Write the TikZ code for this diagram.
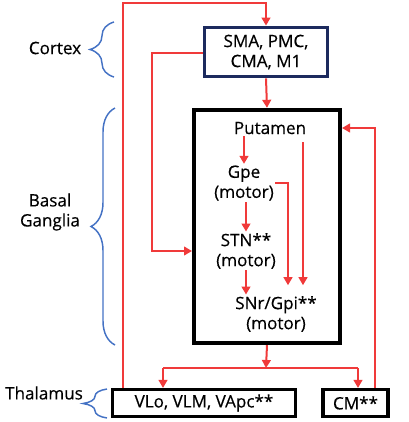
\documentclass[tikz,border=0pt]{standalone}
\usepackage{fontspec}
\setmainfont{Open Sans}
\newfontfamily\diagfont{Open Sans}[FakeBold=0.4]
\usepackage{tikz}
\usetikzlibrary{positioning,shapes,arrows.meta,decorations.pathreplacing}
\definecolor{linkred}{HTML}{F03A3A}
\definecolor{bracebl}{HTML}{4472C4}
\definecolor{navy}{HTML}{1C2A5E}

\begin{document}
\begin{tikzpicture}[x=0.75pt,y=-0.75pt,
  font=\diagfont\fontsize{12.8}{15}\selectfont,
  region/.style={draw,shape=rectangle,inner sep=0pt,align=center},
  part/.style={align=center,inner sep=1pt},
  link/.style={draw=linkred,line width=1.5pt},
  arr/.style={link,-{Triangle[width=6.5pt,length=6pt]}},
  curly/.style={draw=bracebl,line width=1.1pt,decorate,decoration={brace,amplitude=18pt}}]
\useasboundingbox (0,0) rectangle (408,422);
% boxes
\node[region,draw=navy,line width=2.6pt,minimum width=92pt,minimum height=37pt] (cortex) at (266,52) {SMA, PMC,\\CMA, M1};
\node[region,line width=3pt,minimum width=109.5pt,minimum height=175pt] (basal) at (267,226.5) {};
\node[region,line width=2.6pt,minimum width=137pt,minimum height=20pt] (vlo) at (204,403) {VLo, VLM, VApc**};
\node[region,line width=2.6pt,minimum width=49pt,minimum height=20pt] (cm) at (355.5,403) {CM**};
% inside basal ganglia
\node[part] (putamen) at (270,128) {Putamen};
\node[part] (gpe) at (244,183) {Gpe\\(motor)};
\node[part] (stn) at (246,251) {STN**\\(motor)};
\node[part] (snr) at (276,314) {SNr/Gpi**\\(motor)};
% labels
\node (cortexlbl) at (55,48) {Cortex};
\node[align=center] (basallbl) at (50,212) {Basal\\Ganglia};
\node (thallbl) at (44,393) {Thalamus};
\draw[curly] (114,77) -- (114,22);
\draw[curly] (115,345) -- (115,108);
\draw[curly] (107,418) -- (107,389);
% connectors
\coordinate (topL) at (123,3);
\coordinate (topR) at (266,3);
\coordinate (midL) at (152,53);
\coordinate (gpeR) at (288,183);
\coordinate (putR) at (303,142);
\coordinate (split) at (266,368);
\coordinate (splitL) at (163,368);
\coordinate (splitR) at (358,368);
\coordinate (cmUp) at (375,128);
\draw[arr] (vlo.north -| topL) -- (topL) -- (topR) -- (cortex.north);
\draw[arr] (cortex.west |- midL) -- (midL) |- (basal.west |- stn);
\draw[arr] (cortex.south) -- (basal.north);
\draw[arr] (gpe.north |- putamen.south) -- (gpe.north);
\draw[arr] (gpe.south -| stn.north) -- (stn.north);
\draw[arr] (stn.south) -- (stn.south |- snr.north);
\draw[arr,shorten >=7pt] (gpe.east) -- (gpeR) -- (gpeR |- snr.north);
\draw[arr,shorten >=7pt] (putR) -- (putR |- snr.north);
\draw[arr] (basal.south) -- (split);
\draw[link] (splitL) -- (splitR);
\draw[arr] (splitL) -- (splitL |- vlo.north);
\draw[arr] (splitR) -- (splitR |- cm.north);
\draw[arr] (cm.north -| cmUp) -- (cmUp) -- (basal.east |- cmUp);
\end{tikzpicture}
\end{document}
